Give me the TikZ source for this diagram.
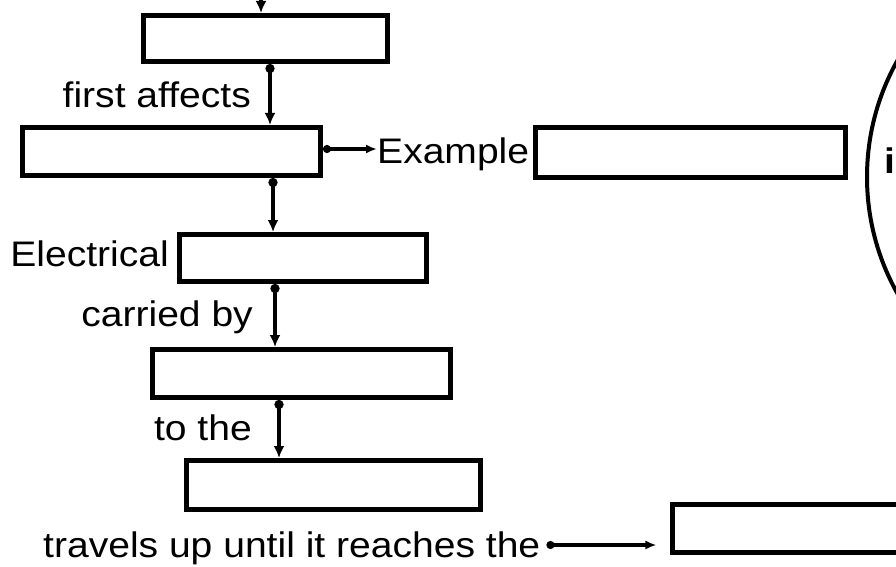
\documentclass[tikz,border=0pt]{standalone}
\usepackage{fontspec}
\setmainfont{Liberation Sans}[FakeStretch=1.1]
\usetikzlibrary{arrows.meta,positioning,calc}
\tikzset{
  blank/.style={draw, line width=5pt, inner sep=0pt},
  lbl/.style={inner sep=0pt, font=\fontsize{35.5}{42}\selectfont},
  arrow/.style={{Circle[length=9pt]}-{Latex[length=12pt,width=11pt]}, line width=4.2pt},
  thinarrow/.style={{Circle[length=8pt]}-{Latex[length=11pt,width=9pt]}, line width=3.2pt},
  inarrow/.style={-{Latex[length=12pt,width=11pt]}, line width=4.2pt}
}

\begin{document}
\begin{tikzpicture}[x=1pt, y=-1pt]
  \useasboundingbox (0,0) rectangle (896,567);
  \clip (0,0) rectangle (896,567);
  % blank boxes
  \node[blank, minimum width=244pt, minimum height=46pt] (top) at (265.5,38.5) {};
  \node[blank, minimum width=298pt, minimum height=48pt] (first) at (171.5,151.5) {};
  \node[blank, minimum width=310pt, minimum height=50pt] (example) at (690.5,152.5) {};
  \node[blank, minimum width=247pt, minimum height=47pt] (elec) at (303,258) {};
  \node[blank, minimum width=298pt, minimum height=48pt] (carrier) at (301.5,373.5) {};
  \node[blank, minimum width=294pt, minimum height=49pt] (dest) at (333.5,485) {};
  \node[blank, minimum width=296pt, minimum height=48pt] (reach) at (820,528.5) {};
  % labels
  \node[lbl, anchor=base east] (affects) at (251,108) {first affects};
  \node[lbl, anchor=base west] (eg) at (377,163) {Example};
  \node[lbl, anchor=base east] (elecl) at (169,266) {Electrical};
  \node[lbl, anchor=base east] (carried) at (253,326) {carried by};
  \node[lbl, anchor=base east] (tothe) at (252,440) {to the};
  \node[lbl, anchor=base west] (travels) at (43,557) {travels up until it reaches the};
  \node[lbl, font=\fontsize{35.5}{42}\selectfont\bfseries, anchor=base west] (word) at (884,173) {i};
  % circle on the right
  \draw[line width=4pt] (1105,177) circle[radius=238];
  % connectors
  \coordinate (src) at (261,-10);
  \coordinate (xa) at (270,0);
  \coordinate (xb) at (273,0);
  \coordinate (xc) at (275,0);
  \coordinate (xd) at (279,0);
  \draw[inarrow] (src) -- (src |- top.north);
  \draw[arrow] (top.south -| xa) -- (first.north -| xa);
  \draw[arrow] (first.south -| xb) -- (elec.north -| xb);
  \draw[arrow] (elec.south -| xc) -- (carrier.north -| xc);
  \draw[arrow] (carrier.south -| xd) -- (dest.north -| xd);
  \draw[thinarrow] (first.east |- 0,149) -- (eg.west |- 0,149);
  \draw[thinarrow] ($(travels.base east)+(6,-12)$) -- ++(110,0);
\end{tikzpicture}
\end{document}
